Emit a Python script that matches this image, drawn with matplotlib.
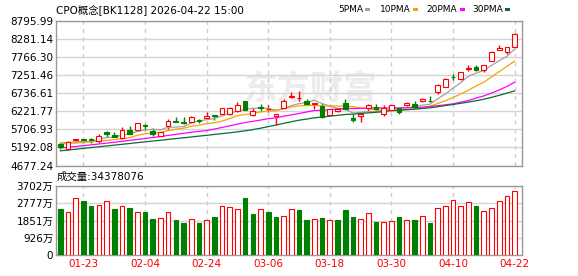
import matplotlib
matplotlib.use("Agg")
import matplotlib.pyplot as plt
from matplotlib.patches import Rectangle
import numpy as np
import pandas as pd

W, H = 578, 276
RED = "#ff0000"
GREEN = "#008000"
plt.rcParams["font.family"] = ["DejaVu Sans", "Noto Sans CJK SC"]

# daily candles, CPO concept board
open_ = [5300, 5135, 5410, 5428, 5425, 5389, 5644, 5549, 5455, 5691,
         5691, 5820, 5672, 5530, 5794, 5932, 5930, 5907, 5960, 6020,
         6110, 6133, 6142, 6218, 6509, 6114, 6340, 6280, 6076, 6330,
         6635, 6590, 6509, 6425, 6377, 6124, 6220, 6453, 6039, 6076,
         6302, 6358, 6133, 6255, 6302, 6396, 6424, 6509, 6525, 6773,
         6923, 7210, 7130, 7435, 7478, 7394, 7667, 7977, 7902, 8053]
high = [5315, 5375, 5435, 5445, 5470, 5578, 5672, 5644, 5766, 5813,
        5890, 5860, 5738, 5640, 6000, 6050, 6050, 6095, 6010, 6190,
        6115, 6330, 6335, 6490, 6528, 6330, 6443, 6400, 6150, 6560,
        6760, 6805, 6585, 6470, 6450, 6300, 6330, 6566, 6142, 6150,
        6430, 6424, 6396, 6410, 6330, 6480, 6518, 6613, 6660, 6990,
        7160, 7272, 7345, 7544, 7554, 7550, 7930, 8100, 8060, 8467]
low = [5140, 5120, 5340, 5330, 5330, 5324, 5502, 5500, 5436, 5578,
       5680, 5690, 5530, 5515, 5720, 5910, 5870, 5888, 5900, 6015,
       5980, 6125, 6130, 6210, 6255, 6095, 6236, 6190, 5832, 6320,
       6605, 6505, 6440, 6300, 6040, 6115, 6210, 6275, 5926, 5907,
       6240, 6240, 6100, 6250, 6140, 6380, 6330, 6500, 6490, 6707,
       6915, 7112, 7120, 7365, 7365, 7337, 7650, 7970, 7855, 8045]
close = [5205, 5361, 5420, 5415, 5410, 5531, 5587, 5502, 5691, 5578,
         5879, 5810, 5578, 5625, 5935, 5920, 5880, 6067, 5950, 6095,
         6075, 6305, 6320, 6415, 6265, 6236, 6320, 6295, 6142, 6519,
         6646, 6602, 6444, 6470, 6048, 6290, 6285, 6280, 5964, 6142,
         6396, 6284, 6302, 6396, 6190, 6471, 6358, 6566, 6515, 6980,
         7149, 7200, 7337, 7450, 7412, 7544, 7902, 8025, 8053, 8429]
# volume in units of 10k (万)
volume = [2468, 2307, 3040, 2897, 2629, 2683, 2897, 2468, 2611, 2522,
          2307, 2307, 1931, 1967, 2307, 1878, 1717, 1914, 1735, 1860,
          2039, 2611, 2557, 2450, 3058, 2200, 2450, 2307, 2039, 2075,
          2450, 2414, 1878, 1931, 1985, 1878, 1878, 2414, 2039, 1931,
          2254, 1788, 1771, 1824, 2039, 1878, 1878, 2093, 1735, 2504,
          2629, 2951, 2629, 2826, 2629, 2361, 2522, 2897, 3166, 3437.8076]

# moving average values before the window is full
ma5_head = [5320, 5335, 5350, 5362]
ma10_head = [5295, 5305, 5318, 5333, 5350, 5370, 5392, 5415, 5442]
ma20_head = [5175, 5198, 5220, 5243, 5266, 5290, 5314, 5340, 5366, 5393,
             5420, 5448, 5475, 5504, 5534, 5565, 5595, 5625, 5650]
ma30_head = [5095, 5118, 5141, 5165, 5188, 5211, 5234, 5258, 5281, 5304,
             5328, 5351, 5374, 5397, 5420, 5444, 5467, 5490, 5514, 5537,
             5562, 5587, 5610, 5637, 5665, 5700, 5740, 5785, 5830]

price_ticks = [4677.24, 5192.08, 5706.93, 6221.77, 6736.61,
               7251.46, 7766.30, 8281.14, 8795.99]
vol_ticks = [0, 926, 1851, 2777, 3702]
date_idx = [3, 11, 19, 27, 35, 43, 51, 59]
date_labels = ["01-23", "02-04", "02-24", "03-06", "03-18", "03-30", "04-10", "04-22"]

ma_specs = [("5PMA", 5, ma5_head, "#a0a0a0"),
            ("10PMA", 10, ma10_head, "#f5a300"),
            ("20PMA", 20, ma20_head, "#ff00ff"),
            ("30PMA", 30, ma30_head, "#0b6b34")]


def px_rect(l, t, r, b):
    return [l / W, 1 - b / H, (r - l) / W, (b - t) / H]


def style_axes(a):
    for s in a.spines.values():
        s.set_color("#999999")
        s.set_linewidth(1)
    a.tick_params(length=0, pad=2, labelsize=7.5, colors="#000000")
    a.set_axisbelow(True)
    a.grid(axis="y", color="#d4d4d4", lw=1, ls="-")
    a.grid(axis="x", color="#cccccc", lw=1, ls=(0, (3, 3)))


o = np.array(open_, dtype=float)
h = np.array(high, dtype=float)
l = np.array(low, dtype=float)
c = np.array(close, dtype=float)
v = np.array(volume, dtype=float)
x = np.arange(len(c))

fig = plt.figure(figsize=(W / 100, H / 100), dpi=100)
ax = fig.add_axes(px_rect(56, 21, 522, 165.5))
axv = fig.add_axes(px_rect(56, 186, 522, 255))
style_axes(ax)
style_axes(axv)

# watermark
ax.text(0.545, 0.52, "东方财富", transform=ax.transAxes, ha="center", va="center",
        fontsize=24, fontweight="bold", color="#ececec", zorder=0.2,
        family=["Noto Sans CJK SC"])

up = c >= o
col = np.where(up, RED, GREEN)
ax.vlines(x, l, h, colors=col, lw=1, zorder=2)
ax.bar(x, np.abs(c - o), bottom=np.minimum(o, c), width=0.62,
       color=np.where(up, "white", GREEN), edgecolor=col, lw=0.8, zorder=3)

for name, n, head, color in ma_specs:
    ma = pd.Series(c).rolling(n).mean().to_numpy()
    ma[:n - 1] = head
    ax.plot(x, ma, color=color, lw=0.9, zorder=2.5)

ax.set_xlim(-0.56, 59.96)
ax.set_ylim(price_ticks[0], price_ticks[-1])
ax.set_yticks(price_ticks)
ax.set_yticklabels(["%.2f" % t for t in price_ticks])
ax.set_xticks(date_idx)
ax.set_xticklabels([])

# volume: colour by close vs previous close
vup = np.r_[c[0] >= o[0], c[1:] >= c[:-1]]
vcol = np.where(vup, RED, GREEN)
axv.bar(x, v, width=0.6, color=np.where(vup, "white", GREEN),
        edgecolor=vcol, lw=0.8, zorder=3)
axv.set_xlim(-0.56, 59.96)
axv.set_ylim(0, vol_ticks[-1])
axv.set_yticks(vol_ticks)
axv.set_yticklabels([str(t) + ("万" if t else "") for t in vol_ticks])
axv.set_xticks(date_idx)
axv.set_xticklabels(date_labels, color=RED)
axv.tick_params(axis="x", pad=3)

# header texts
fig.text(56 / W, 1 - 10 / H, "CPO概念[BK1128] 2026-04-22 15:00",
         fontsize=7.5, va="center", ha="left")
legend_x = [(338, 365), (380, 413), (426, 460), (472, 505)]
for (name, n, head, color), (tx, bx) in zip(ma_specs, legend_x):
    fig.text(tx / W, 1 - 10 / H, name, fontsize=6.5, va="center", ha="left")
    fig.add_artist(Rectangle((bx / W, 1 - 11 / H), 5 / W, 3 / H,
                             transform=fig.transFigure, color=color, lw=0))
fig.text(57 / W, 1 - 177 / H, "成交量:%d" % round(v[-1] * 1e4),
         fontsize=7.5, va="center", ha="left")

fig.savefig("out.png", dpi=100)
